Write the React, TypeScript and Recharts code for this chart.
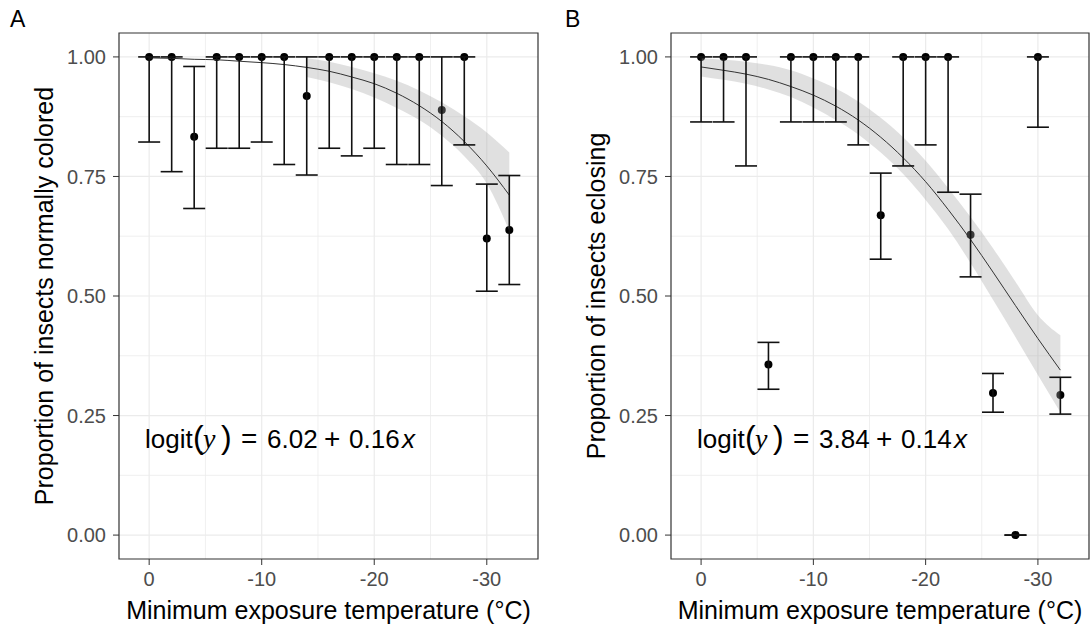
import {
  ComposedChart,
  Scatter,
  ErrorBar,
  Area,
  Line,
  XAxis,
  YAxis,
  ReferenceLine,
  ReferenceArea,
} from "recharts";

// exposure temperatures (°C), shared by both panels
const TEMPS = [0, -2, -4, -6, -8, -10, -12, -14, -16, -18, -20, -22, -24, -26, -28, -30, -32];

// panel A: proportion normally colored
const A_PROP = [1, 1, 0.833, 1, 1, 1, 1, 0.918, 1, 1, 1, 1, 1, 0.889, 1, 0.62, 0.638];
const A_LOWER = [0.822, 0.76, 0.683, 0.809, 0.809, 0.822, 0.775, 0.753, 0.809, 0.793, 0.809, 0.775, 0.775, 0.731, 0.816, 0.51, 0.524];
const A_UPPER = [1, 1, 0.98, 1, 1, 1, 1, 1, 1, 1, 1, 1, 1, 1, 1, 0.734, 0.752];
const A_FIT = [0.998, 0.997, 0.995, 0.994, 0.991, 0.988, 0.984, 0.978, 0.97, 0.958, 0.944, 0.924, 0.898, 0.865, 0.823, 0.772, 0.711];
const A_BAND_LO = [null, null, null, null, null, null, null, 0.958, 0.947, 0.933, 0.915, 0.893, 0.868, 0.835, 0.792, 0.735, 0.637];
const A_BAND_HI = [null, null, null, null, null, null, null, 0.997, 0.99, 0.979, 0.966, 0.95, 0.93, 0.905, 0.876, 0.842, 0.8];

// panel B: proportion eclosing
const B_PROP = [1, 1, 1, 0.357, 1, 1, 1, 1, 0.669, 1, 1, 1, 0.628, 0.297, 0, 1, 0.293];
const B_LOWER = [0.864, 0.864, 0.772, 0.305, 0.864, 0.864, 0.864, 0.816, 0.577, 0.772, 0.816, 0.717, 0.54, 0.257, 0, 0.853, 0.253];
const B_UPPER = [1, 1, 1, 0.403, 1, 1, 1, 1, 0.757, 1, 1, 1, 0.713, 0.338, 0, 1, 0.33];
const B_FIT = [0.979, 0.972, 0.964, 0.953, 0.938, 0.92, 0.897, 0.868, 0.832, 0.789, 0.739, 0.681, 0.618, 0.55, 0.48, 0.411, 0.345];
const B_BAND_LO = [0.959, 0.952, 0.944, 0.932, 0.916, 0.894, 0.868, 0.838, 0.8, 0.755, 0.701, 0.64, 0.569, 0.492, 0.414, 0.335, 0.257];
const B_BAND_HI = [0.997, 0.994, 0.99, 0.983, 0.972, 0.955, 0.934, 0.907, 0.873, 0.832, 0.783, 0.726, 0.665, 0.6, 0.53, 0.46, 0.418];

const X_TICKS = [0, -10, -20, -30];
const X_MINOR = [-5, -15, -25];
const Y_TICKS = [0, 0.25, 0.5, 0.75, 1];
const Y_MINOR = [0.125, 0.375, 0.625, 0.875];

const X_DOMAIN: [number, number] = [-34.55, 2.68];
const Y_DOMAIN: [number, number] = [-0.05, 1.05];

const FONT = "'Liberation Sans', Arial, sans-serif";
const TICK_STYLE = { fontSize: 20, fill: "#4d4d4d", fontFamily: FONT };
const GRID = "#ebebeb";

type PanelProps = {
  prop: number[];
  lower: number[];
  upper: number[];
  fit: number[];
  bandLo: (number | null)[];
  bandHi: (number | null)[];
  width: number;
  right: number;
};

const Panel = ({ prop, lower, upper, fit, bandLo, bandHi, width, right }: PanelProps) => {
  const points = TEMPS.map((x, i) => ({
    x,
    y: prop[i],
    err: [prop[i] - lower[i], upper[i] - prop[i]],
  }));
  const curve = TEMPS.map((x, i) => ({
    x,
    fit: fit[i],
    band: bandLo[i] == null ? null : [bandLo[i], bandHi[i]],
  }));

  return (
    <ComposedChart
      width={width}
      height={630}
      data={curve}
      margin={{ top: 33, right, bottom: 0, left: 0 }}
    >
      {X_TICKS.concat(X_MINOR).map((v) => (
        <ReferenceLine key={"x" + v} x={v} stroke={GRID} strokeWidth={X_MINOR.includes(v) ? 0.8 : 1.2} zIndex={-50} />
      ))}
      {Y_TICKS.concat(Y_MINOR).map((v) => (
        <ReferenceLine key={"y" + v} y={v} stroke={GRID} strokeWidth={Y_MINOR.includes(v) ? 0.8 : 1.2} zIndex={-50} />
      ))}
      <XAxis
        type="number"
        dataKey="x"
        domain={X_DOMAIN}
        reversed
        allowDataOverflow
        ticks={X_TICKS}
        tickFormatter={(v) => String(v)}
        tick={TICK_STYLE}
        tickLine={{ stroke: "#333333" }}
        tickSize={6}
        tickMargin={7}
        axisLine={false}
        height={71}
      />
      <YAxis
        type="number"
        dataKey="y"
        domain={Y_DOMAIN}
        allowDataOverflow
        ticks={Y_TICKS}
        tickFormatter={(v) => Number(v).toFixed(2)}
        tick={TICK_STYLE}
        tickLine={{ stroke: "#333333" }}
        tickSize={6}
        tickMargin={7}
        axisLine={false}
        width={119}
      />
      <Scatter
        data={points}
        dataKey="y"
        isAnimationActive={false}
        zIndex={100}
        shape={(p: any) => <circle cx={p.cx} cy={p.cy} r={4} fill="#000" />}
      >
        <ErrorBar dataKey="err" direction="y" width={11} stroke="#111" strokeWidth={1.6} isAnimationActive={false} />
      </Scatter>
      <Area
        dataKey="band"
        type="monotone"
        fill="#a6a6a6"
        fillOpacity={0.35}
        stroke="none"
        connectNulls={false}
        isAnimationActive={false}
        zIndex={200}
      />
      <Line
        dataKey="fit"
        type="monotone"
        stroke="#333333"
        strokeWidth={1}
        dot={false}
        activeDot={false}
        isAnimationActive={false}
        zIndex={300}
      />
      <ReferenceArea
        x1={X_DOMAIN[1]}
        x2={X_DOMAIN[0]}
        y1={Y_DOMAIN[0]}
        y2={Y_DOMAIN[1]}
        fill="none"
        stroke="#333333"
        strokeWidth={1.2}
        zIndex={1000}
      />
    </ComposedChart>
  );
};

const Equation = ({ x, y, a, b }: { x: number; y: number; a: string; b: string }) => (
  <text y={y} fontSize={26} fill="#000" fontFamily={FONT}>
    <tspan x={x}>logit</tspan>
    <tspan x={x + 48} fontSize={32}>(</tspan>
    <tspan x={x + 58} fontFamily="'Liberation Serif', serif" fontStyle="italic" fontSize={28}>y</tspan>
    <tspan x={x + 76} fontSize={32}>)</tspan>
    <tspan x={x + 96} fontSize={28}>=</tspan>
    <tspan x={x + 122}>{a}</tspan>
    <tspan x={x + 179} fontSize={28}>+</tspan>
    <tspan x={x + 204}>{b}</tspan>
    <tspan x={x + 257} fontStyle="italic">x</tspan>
  </text>
);

export default function App() {
  return (
    <div
      style={{
        position: "absolute",
        left: 0,
        top: 0,
        width: 1091,
        height: 630,
        background: "#fff",
        fontFamily: FONT,
      }}
    >
      <div style={{ position: "absolute", left: 0, top: 0 }}>
        <Panel prop={A_PROP} lower={A_LOWER} upper={A_UPPER} fit={A_FIT} bandLo={A_BAND_LO} bandHi={A_BAND_HI} width={545} right={7} />
      </div>
      <div style={{ position: "absolute", left: 552, top: 0 }}>
        <Panel prop={B_PROP} lower={B_LOWER} upper={B_UPPER} fit={B_FIT} bandLo={B_BAND_LO} bandHi={B_BAND_HI} width={539} right={2} />
      </div>
      <svg
        width={1091}
        height={630}
        style={{ position: "absolute", left: 0, top: 0, pointerEvents: "none" }}
      >
        <text x={10} y={27} fontSize={23} fill="#000" fontFamily={FONT}>A</text>
        <text x={565} y={27} fontSize={23} fill="#000" fontFamily={FONT}>B</text>
        <text x={53} y={296} transform="rotate(-90 53 296)" textAnchor="middle" fontSize={25} fill="#000" fontFamily={FONT}>
          Proportion of insects normally colored
        </text>
        <text x={605} y={296} transform="rotate(-90 605 296)" textAnchor="middle" fontSize={25} fill="#000" fontFamily={FONT}>
          Proportion of insects eclosing
        </text>
        <text x={328.5} y={619} textAnchor="middle" fontSize={25} fill="#000" fontFamily={FONT}>
          Minimum exposure temperature (°C)
        </text>
        <text x={880} y={619} textAnchor="middle" fontSize={25} fill="#000" fontFamily={FONT}>
          Minimum exposure temperature (°C)
        </text>
        <Equation x={145} y={448} a="6.02" b="0.16" />
        <Equation x={697} y={448} a="3.84" b="0.14" />
      </svg>
    </div>
  );
}
